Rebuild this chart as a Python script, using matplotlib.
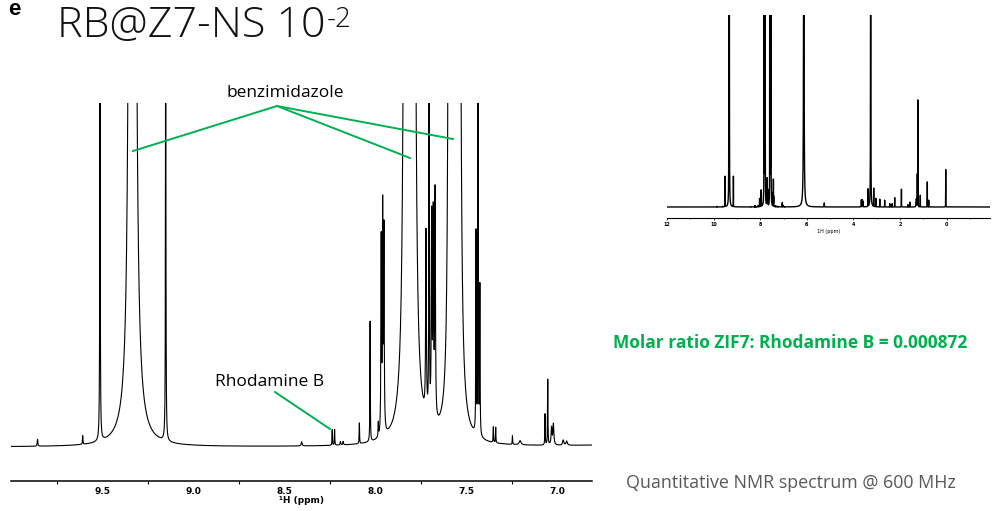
import numpy as np
import matplotlib.pyplot as plt

plt.rcParams['font.family'] = ['DejaVu Sans']

# peak list: shift (ppm), height (main panel units), half width (ppm)
shift = [9.854, 9.606, 9.511, 9.3434, 9.3286, 9.150,
         8.403, 8.235, 8.222, 8.190, 8.175, 8.086, 8.027, 7.982,
         7.966, 7.958, 7.951,
         7.8297, 7.7912,
         7.720, 7.703, 7.689, 7.680, 7.670,
         7.590, 7.566, 7.541,
         7.445, 7.434, 7.424,
         7.350, 7.337, 7.245, 7.203, 7.066, 7.051, 7.030, 7.020, 6.966, 6.947,
         6.13, 5.25, 3.66, 3.62, 3.59, 3.37, 3.26, 3.13, 3.04, 2.87, 2.66,
         2.44, 2.34, 2.23, 1.94, 1.66, 1.58, 1.30, 1.26, 1.23, 1.13,
         0.83, 0.77, 0.04]
height = [0.02, 0.025, 1.3, 30, 30, 1.3,
          0.012, 0.045, 0.045, 0.01, 0.01, 0.06, 0.35, 0.04,
          0.56, 0.64, 0.58,
          30, 30,
          0.53, 1.15, 0.58, 0.58, 0.66,
          30, 10, 30,
          0.58, 1.15, 0.43,
          0.045, 0.045, 0.025, 0.012, 0.09, 0.19, 0.05, 0.06, 0.015, 0.012,
          20, 0.17, 0.3, 0.3, 0.25, 0.74, 30, 0.78, 0.36, 0.33, 0.29,
          0.14, 0.14, 0.40, 0.76, 0.1, 0.21, 0.35, 1.38, 4.56, 0.5,
          1.07, 0.29, 1.6]
hwhm = [0.002, 0.0015, 0.0014, 0.002, 0.0038, 0.0014,
        0.003, 0.0012, 0.0012, 0.002, 0.002, 0.0012, 0.0012, 0.0012,
        0.0018, 0.0018, 0.0018,
        0.003, 0.003,
        0.0022, 0.0014, 0.0022, 0.0022, 0.0022,
        0.0018, 0.003, 0.0025,
        0.0013, 0.0013, 0.0013,
        0.0012, 0.0012, 0.0012, 0.006, 0.0012, 0.0012, 0.003, 0.003, 0.004, 0.004,
        0.01, 0.004, 0.003, 0.003, 0.003, 0.002, 0.004, 0.002, 0.002, 0.002, 0.002,
        0.002, 0.002, 0.002, 0.002, 0.002, 0.002, 0.01, 0.002, 0.002, 0.002,
        0.002, 0.002, 0.002]

main_ticks = [9.5, 9.0, 8.5, 8.0, 7.5, 7.0]
main_minor = [9.75, 9.25, 8.75, 8.25, 7.75, 7.25]
inset_ticks = [12, 10, 8, 6, 4, 2, 0]
inset_minor = [11, 9, 7, 5, 3, 1, -1]

green = '#00b050'

ppm = np.arange(-2.0, 12.5, 0.0002)
spec = np.zeros_like(ppm)
for c, h, w in zip(shift, height, hwhm):
    spec += h / (1 + ((ppm - c) / w) ** 2)

W, H = 992, 511
fig = plt.figure(figsize=(W / 100, H / 100), dpi=100)

# main zoomed panel
ax = fig.add_axes([11 / W, 30 / H, 581 / W, 378 / H])
ax.plot(ppm, spec, color='black', lw=0.8)
ax.set_xlim(10.0, 6.808)
ax.set_ylim(-0.0988, 1.0)
for s in ['top', 'left', 'right']:
    ax.spines[s].set_visible(False)
ax.spines['bottom'].set_linewidth(1.1)
ax.set_yticks([])
ax.set_xticks(main_ticks)
ax.set_xticks(main_minor, minor=True)
ax.set_xticklabels(['%.1f' % t for t in main_ticks], fontweight='bold', fontsize=6.5)
ax.tick_params(axis='x', which='major', length=0, pad=4)
ax.tick_params(axis='x', which='minor', length=2.5, width=0.8)
ax.set_xlabel('¹H (ppm)', fontsize=6.5, fontweight='bold', labelpad=0)

# full spectrum inset
ins = fig.add_axes([667 / W, (H - 218) / H, 323 / W, 203 / H])
ins.plot(ppm, spec, color='black', lw=1.0)
ins.set_xlim(12.0, -1.86)
ins.set_ylim(-0.47, 8.2)
for s in ['top', 'left', 'right']:
    ins.spines[s].set_visible(False)
ins.spines['bottom'].set_linewidth(0.8)
ins.set_yticks([])
ins.set_xticks(inset_ticks)
ins.set_xticks(inset_minor, minor=True)
ins.set_xticklabels([str(t) for t in inset_ticks], fontsize=3.5, fontweight='bold')
ins.tick_params(axis='x', which='major', length=1.5, width=0.5, pad=1.5)
ins.tick_params(axis='x', which='minor', length=1, width=0.5)
ins.set_xlabel('1H (ppm)', fontsize=3.5, labelpad=1)

# text and annotations (figure pixel coordinates)
def fx(x):
    return x / W

def fy(y):
    return 1 - y / H

fig.text(fx(8), fy(15), 'e', fontsize=16, fontweight='bold', family='Liberation Sans')
title = fig.text(fx(57), fy(37), 'RB@Z7-NS 10', fontsize=31, family='Open Sans',
                 fontweight='light', color='#111111')
fig.canvas.draw()
x_end = title.get_window_extent().x1
fig.text((x_end + 1) / W, fy(6), '-2', fontsize=20, family='Open Sans',
         fontweight='light', color='#111111', va='top')

fig.text(fx(285), fy(97), 'benzimidazole', fontsize=12.5, family='Open Sans', ha='center')
fig.text(fx(270), fy(386), 'Rhodamine B', fontsize=12.5, family='Open Sans', ha='center')

for x2, y2 in [(133, 151), (410, 158), (453, 139)]:
    fig.add_artist(plt.Line2D([fx(277), fx(x2)], [fy(106), fy(y2)], color=green, lw=1.4))
fig.add_artist(plt.Line2D([fx(275), fx(330)], [fy(392), fy(429)], color=green, lw=1.4))

fig.text(fx(790), fy(348), 'Molar ratio ZIF7: Rhodamine B = 0.000872', fontsize=12.5,
         family='Open Sans', fontweight='bold', color=green, ha='center')
fig.text(fx(791), fy(488), 'Quantitative NMR spectrum @ 600 MHz', fontsize=12.9,
         family='Open Sans', color='#595959', ha='center')

fig.savefig('out.png', dpi=100)
